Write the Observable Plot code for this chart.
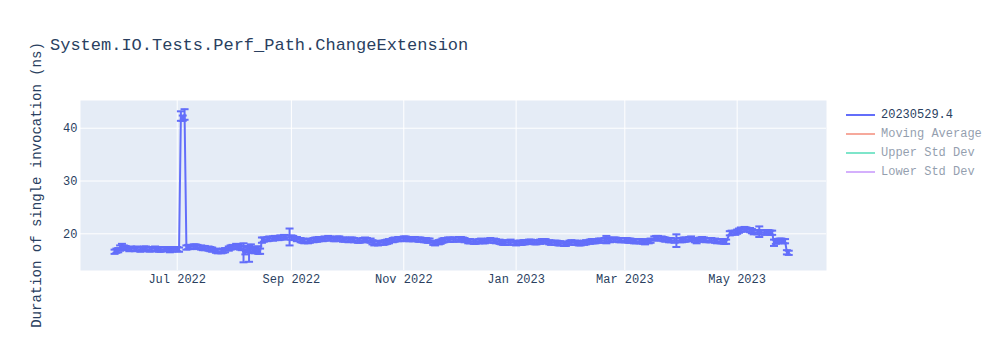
<!DOCTYPE html>
<html>
<head>
<meta charset="utf-8">
<script src="https://cdn.jsdelivr.net/npm/d3@7"></script>
<script src="https://cdn.jsdelivr.net/npm/@observablehq/plot@0.6"></script>
<style>
  body { margin: 0; background: white; }
  #wrap { position: relative; width: 1000px; height: 350px; font-family: "Liberation Mono", monospace; color: #2a3f5f; }
  #wrap svg { position: absolute; left: 0; top: 0; }
  .title { position: absolute; left: 50px; top: 37px; font-size: 17px; line-height: 17px; white-space: nowrap; }
  .ylab { position: absolute; left: 37px; top: 185px; width: 360px; margin-left: -180px; margin-top: -8px; text-align: center; font-size: 14px; line-height: 16px; transform: rotate(-90deg); white-space: nowrap; }
  .leg { position: absolute; left: 846px; font-size: 12px; line-height: 14px; height: 14px; white-space: nowrap; }
  .leg .sw { position: absolute; left: 0; top: 6px; width: 29px; height: 2px; }
  .leg .tx { position: absolute; left: 35px; top: 0; }
</style>
</head>
<body>
<div id="wrap"></div>
<script>
const chartTitle = "System.IO.Tests.Perf_Path.ChangeExtension";
const yTitle = "Duration of single invocation (ns)";
const seriesNames = ["20230529.4", "Moving Average", "Upper Std Dev", "Lower Std Dev"];
const seriesColors = ["#636efa", "#EF553B", "#00cc96", "#ab63fa"];
const seriesVisible = [true, false, false, false];

const xTickLabels = ["2022-07-01", "2022-09-01", "2022-11-01", "2023-01-01", "2023-03-01", "2023-05-01"];
const yTickValues = [20, 30, 40];

// one line per month
const dates = [
  "2022-05-28","2022-05-29","2022-05-30","2022-05-31",
  "2022-06-01","2022-06-02","2022-06-03","2022-06-05","2022-06-06","2022-06-08","2022-06-09","2022-06-11","2022-06-12","2022-06-13","2022-06-14","2022-06-16","2022-06-17","2022-06-19","2022-06-20","2022-06-21","2022-06-22","2022-06-24","2022-06-25","2022-06-27","2022-06-28","2022-06-29",
  "2022-07-01","2022-07-02","2022-07-03","2022-07-04","2022-07-05","2022-07-06","2022-07-07","2022-07-08","2022-07-10","2022-07-11","2022-07-12","2022-07-14","2022-07-15","2022-07-16","2022-07-18","2022-07-19","2022-07-20","2022-07-22","2022-07-23","2022-07-25","2022-07-26","2022-07-27","2022-07-29","2022-07-30","2022-07-31",
  "2022-08-02","2022-08-03","2022-08-04","2022-08-05","2022-08-06","2022-08-07","2022-08-08","2022-08-09","2022-08-10","2022-08-11","2022-08-12","2022-08-13","2022-08-14","2022-08-15","2022-08-16","2022-08-17","2022-08-19","2022-08-20","2022-08-22","2022-08-23","2022-08-25","2022-08-26","2022-08-28","2022-08-29","2022-08-31",
  "2022-09-01","2022-09-02","2022-09-04","2022-09-06","2022-09-07","2022-09-08","2022-09-10","2022-09-11","2022-09-13","2022-09-14","2022-09-15","2022-09-16","2022-09-18","2022-09-19","2022-09-21","2022-09-22","2022-09-24","2022-09-25","2022-09-26","2022-09-27","2022-09-29","2022-09-30",
  "2022-10-02","2022-10-03","2022-10-04","2022-10-05","2022-10-07","2022-10-08","2022-10-10","2022-10-11","2022-10-12","2022-10-14","2022-10-15","2022-10-16","2022-10-18","2022-10-19","2022-10-21","2022-10-22","2022-10-23","2022-10-24","2022-10-26","2022-10-27","2022-10-29","2022-10-30",
  "2022-11-01","2022-11-02","2022-11-03","2022-11-04","2022-11-06","2022-11-07","2022-11-09","2022-11-10","2022-11-12","2022-11-13","2022-11-14","2022-11-15","2022-11-17","2022-11-18","2022-11-20","2022-11-21","2022-11-22","2022-11-23","2022-11-25","2022-11-26","2022-11-28","2022-11-29",
  "2022-12-01","2022-12-02","2022-12-03","2022-12-04","2022-12-06","2022-12-07","2022-12-09","2022-12-10","2022-12-12","2022-12-13","2022-12-14","2022-12-15","2022-12-17","2022-12-18","2022-12-20","2022-12-21","2022-12-23","2022-12-24","2022-12-25","2022-12-26","2022-12-28","2022-12-29","2022-12-31",
  "2023-01-01","2023-01-03","2023-01-04","2023-01-05","2023-01-06","2023-01-08","2023-01-09","2023-01-11","2023-01-12","2023-01-14","2023-01-15","2023-01-16","2023-01-17","2023-01-19","2023-01-20","2023-01-22","2023-01-23","2023-01-24","2023-01-25","2023-01-27","2023-01-28","2023-01-30","2023-01-31",
  "2023-02-02","2023-02-03","2023-02-04","2023-02-05","2023-02-07","2023-02-08","2023-02-10","2023-02-11","2023-02-12","2023-02-13","2023-02-15","2023-02-16","2023-02-18","2023-02-19","2023-02-20","2023-02-21","2023-02-23","2023-02-24","2023-02-26","2023-02-27",
  "2023-03-01","2023-03-02","2023-03-03","2023-03-04","2023-03-06","2023-03-07","2023-03-09","2023-03-10","2023-03-11","2023-03-12","2023-03-14","2023-03-15","2023-03-17","2023-03-18","2023-03-19","2023-03-21","2023-03-22","2023-03-23","2023-03-25","2023-03-26","2023-03-28","2023-03-29","2023-03-31",
  "2023-04-01","2023-04-02","2023-04-03","2023-04-05","2023-04-06","2023-04-08","2023-04-09","2023-04-11","2023-04-12","2023-04-13","2023-04-14","2023-04-16","2023-04-17","2023-04-19","2023-04-20","2023-04-22","2023-04-23","2023-04-24","2023-04-25","2023-04-27","2023-04-28","2023-04-30",
  "2023-05-01","2023-05-02","2023-05-03","2023-05-05","2023-05-06","2023-05-08","2023-05-09","2023-05-10","2023-05-12","2023-05-13","2023-05-14","2023-05-16","2023-05-17","2023-05-18","2023-05-19","2023-05-20","2023-05-21","2023-05-22","2023-05-23","2023-05-24","2023-05-25","2023-05-26","2023-05-27","2023-05-28","2023-05-29"
];
const durations = [
  16.6,16.8,16.9,17.3,
  17.6,17.4,17.3,17.1,17.2,17.1,17.2,17.0,17.1,17.2,17.2,17.0,17.1,17.2,17.1,17.0,17.0,17.1,17.1,16.9,17.0,17.1,
  17.1,17.0,42.3,41.9,42.6,17.4,17.5,17.5,17.6,17.6,17.5,17.4,17.3,17.3,17.2,17.1,17.0,16.8,16.7,16.7,16.8,16.9,17.2,17.4,17.5,
  17.7,17.6,17.4,17.3,16.4,16.6,17.0,16.2,17.2,17.0,16.8,17.1,16.9,16.7,18.8,18.9,19.0,19.1,19.1,19.2,19.2,19.3,19.4,19.3,19.4,
  19.3,19.2,19.0,18.8,18.7,18.6,18.6,18.7,18.8,18.9,18.9,19.0,19.0,19.1,19.2,19.1,19.0,19.0,19.1,19.1,18.9,18.9,
  18.8,18.9,18.9,18.8,18.7,18.7,18.8,18.9,18.8,18.7,18.4,18.2,18.2,18.3,18.3,18.4,18.5,18.6,18.8,18.9,19.0,19.0,
  19.1,19.1,19.0,19.0,19.0,19.0,18.9,18.9,18.8,18.8,18.7,18.7,18.3,18.2,18.4,18.5,18.7,18.8,18.9,18.9,18.9,18.9,
  19.0,19.0,18.9,18.8,18.6,18.6,18.5,18.5,18.6,18.7,18.6,18.6,18.7,18.8,18.7,18.6,18.5,18.4,18.3,18.3,18.4,18.4,18.3,
  18.2,18.3,18.3,18.4,18.4,18.5,18.5,18.4,18.4,18.5,18.6,18.6,18.6,18.4,18.3,18.3,18.3,18.2,18.2,18.1,18.1,18.3,18.4,
  18.3,18.3,18.2,18.2,18.3,18.4,18.5,18.6,18.6,18.6,18.7,18.7,18.8,18.9,18.9,18.8,18.9,18.9,18.8,18.8,
  18.8,18.8,18.7,18.7,18.6,18.6,18.6,18.6,18.5,18.4,18.6,18.7,19.1,19.2,19.2,19.1,19.0,18.9,18.8,18.8,18.7,18.7,18.8,
  18.8,18.9,18.9,19.0,19.1,18.8,18.6,18.9,19.0,18.9,18.8,18.8,18.8,18.7,18.6,18.6,18.6,18.5,18.5,20.1,20.2,20.2,
  20.4,20.6,20.8,20.9,20.8,20.7,20.5,20.3,20.3,20.4,20.3,20.2,20.3,20.3,20.2,20.2,18.3,18.5,18.6,18.7,18.7,18.6,18.6,16.5,16.4
];
const errors = [
  0.4,0.4,0.4,0.5,
  0.5,0.4,0.4,0.4,0.4,0.4,0.4,0.4,0.4,0.4,0.4,0.4,0.4,0.4,0.4,0.4,0.4,0.4,0.4,0.4,0.4,0.4,
  0.4,0.4,0.9,0.5,1.0,0.4,0.4,0.4,0.4,0.4,0.4,0.4,0.4,0.4,0.4,0.4,0.4,0.4,0.4,0.4,0.4,0.4,0.4,0.4,0.4,
  0.4,0.4,0.4,0.4,1.8,0.5,0.5,1.5,0.8,0.5,0.5,0.5,0.7,0.5,0.5,0.4,0.4,0.4,0.4,0.4,0.4,0.4,0.4,0.4,1.6,
  0.4,0.4,0.4,0.4,0.4,0.4,0.4,0.4,0.4,0.4,0.4,0.4,0.4,0.4,0.4,0.4,0.4,0.4,0.4,0.4,0.4,0.4,
  0.4,0.4,0.4,0.4,0.4,0.4,0.4,0.4,0.4,0.4,0.4,0.4,0.4,0.4,0.4,0.4,0.4,0.4,0.4,0.4,0.4,0.4,
  0.4,0.4,0.4,0.4,0.4,0.4,0.4,0.4,0.4,0.4,0.4,0.4,0.4,0.4,0.4,0.4,0.4,0.4,0.4,0.4,0.4,0.4,
  0.4,0.4,0.4,0.4,0.4,0.4,0.4,0.4,0.4,0.4,0.4,0.4,0.4,0.4,0.4,0.4,0.4,0.4,0.4,0.4,0.4,0.5,0.4,
  0.4,0.4,0.4,0.4,0.4,0.4,0.4,0.4,0.4,0.4,0.4,0.4,0.4,0.4,0.4,0.4,0.4,0.4,0.4,0.4,0.4,0.4,0.4,
  0.4,0.4,0.4,0.4,0.4,0.4,0.4,0.4,0.4,0.4,0.4,0.4,0.4,0.7,0.4,0.4,0.4,0.4,0.4,0.4,
  0.4,0.4,0.4,0.4,0.4,0.4,0.4,0.4,0.4,0.4,0.4,0.4,0.4,0.4,0.4,0.4,0.4,0.4,0.4,0.4,0.4,1.2,0.4,
  0.4,0.4,0.4,0.4,0.4,0.4,0.4,0.4,0.4,0.4,0.4,0.4,0.4,0.4,0.4,0.4,0.4,0.4,0.4,0.4,0.4,0.4,
  0.4,0.4,0.4,0.4,0.4,0.4,0.4,0.4,0.4,1.0,0.4,0.4,0.4,0.4,0.4,0.4,0.6,0.4,0.4,0.4,0.4,0.4,0.4,0.4,0.4
];

const n = Math.min(dates.length, durations.length, errors.length);
const rows = d3.range(n).map(i => ({date: new Date(dates[i] + "T00:00:00Z"), v: durations[i], e: errors[i]}));
const xTicks = xTickLabels.map(d => new Date(d + "T00:00:00Z"));
const fmt = d3.utcFormat("%b %Y");

const capSymbol = {
  draw(context) {
    context.moveTo(-4, 0);
    context.lineTo(4, 0);
  }
};

const lineColor = seriesColors[0];

const chart = Plot.plot({
  width: 1000,
  height: 350,
  marginLeft: 80,
  marginRight: 174,
  marginTop: 100,
  marginBottom: 80,
  style: {fontFamily: "Liberation Mono, monospace", fontSize: "12px", color: "#2a3f5f", background: "transparent", overflow: "visible"},
  x: {type: "utc", domain: [new Date("2022-05-09T12:00:00Z"), new Date("2023-06-18T12:00:00Z")], ticks: xTicks, tickFormat: fmt, tickSize: 0, tickPadding: 4, label: null},
  y: {domain: [13.05, 45.25], ticks: yTickValues, tickSize: 0, tickPadding: 3, label: null},
  marks: [
    Plot.frame({fill: "#e5ecf6", stroke: "none"}),
    Plot.ruleX(xTicks, {stroke: "white", strokeWidth: 1}),
    Plot.ruleY(yTickValues, {stroke: "white", strokeWidth: 1}),
    Plot.ruleX(rows, {x: "date", y1: d => d.v - d.e, y2: d => d.v + d.e, stroke: lineColor, strokeWidth: 2}),
    Plot.dot(rows, {x: "date", y: d => d.v + d.e, symbol: capSymbol, stroke: lineColor, strokeWidth: 2, fill: "none"}),
    Plot.dot(rows, {x: "date", y: d => d.v - d.e, symbol: capSymbol, stroke: lineColor, strokeWidth: 2, fill: "none"}),
    Plot.line(rows, {x: "date", y: "v", stroke: lineColor, strokeWidth: 2, curve: "linear"})
  ]
});

const wrap = document.getElementById("wrap");
wrap.appendChild(chart);

const t = document.createElement("div");
t.className = "title";
t.textContent = chartTitle;
wrap.appendChild(t);

const yl = document.createElement("div");
yl.className = "ylab";
yl.textContent = yTitle;
wrap.appendChild(yl);

const legendTops = [108, 127, 146, 165];
seriesNames.forEach((name, i) => {
  const item = document.createElement("div");
  item.className = "leg";
  item.style.top = legendTops[i] + "px";
  item.style.opacity = seriesVisible[i] ? 1 : 0.5;
  const sw = document.createElement("div");
  sw.className = "sw";
  sw.style.background = seriesColors[i];
  const tx = document.createElement("div");
  tx.className = "tx";
  tx.textContent = name;
  item.appendChild(sw);
  item.appendChild(tx);
  wrap.appendChild(item);
});
</script>
</body>
</html>
